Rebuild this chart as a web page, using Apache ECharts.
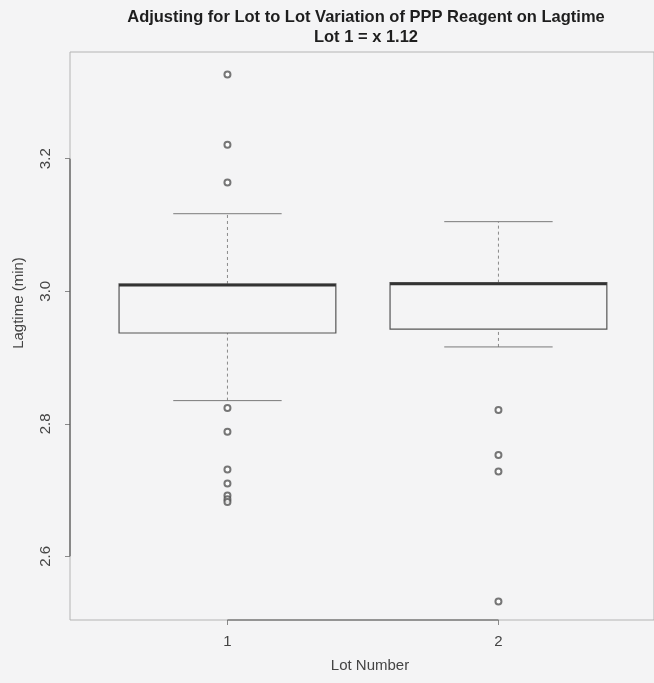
<!DOCTYPE html>
<html>
<head>
<meta charset="utf-8">
<script src="https://cdn.jsdelivr.net/npm/echarts@6/dist/echarts.min.js"></script>
<style>
html,body{margin:0;padding:0;background:#f4f4f5;}
#chart{width:654px;height:683px;}
</style>
</head>
<body>
<div id="chart"></div>
<script>
// ---- data ----
const categories = ['1', '2'];
const lotPositions = [1, 2];
const lowerWhisker = [2.835, 2.916];
const q1 = [2.937, 2.943];
const median = [3.009, 3.011];
const q3 = [3.011, 3.013];
const upperWhisker = [3.117, 3.105];
const outliersLot1 = [3.327, 3.221, 3.164, 2.824, 2.788, 2.731, 2.710, 2.692, 2.686, 2.682];
const outliersLot2 = [2.821, 2.753, 2.728, 2.532];
const yTicks = [2.6, 2.8, 3.0, 3.2];
const titleText = 'Adjusting for Lot to Lot Variation of PPP Reagent on Lagtime';
const subtitleText = 'Lot 1 = x 1.12';
const yName = 'Lagtime (min)';
const xName = 'Lot Number';

// ---- axis ranges / layout ----
const Y_MIN = 2.504, Y_MAX = 3.361;
const X_MIN = 0.419, X_MAX = 2.574;
const BOX_WIDTH = 0.8;
const FONT = '"Liberation Sans", Arial, Helvetica, sans-serif';

const boxData = lotPositions.map((x, i) => [x, lowerWhisker[i], q1[i], median[i], q3[i], upperWhisker[i]]);
const outlierData = outliersLot1.map(v => [lotPositions[0], v]).concat(outliersLot2.map(v => [lotPositions[1], v]));

const chart = echarts.init(document.getElementById('chart'), null, {renderer: 'canvas'});

const dashed = {stroke: '#8a8a8a', lineWidth: 1, lineDash: [3, 3]};

chart.setOption({
  backgroundColor: '#f4f4f5',
  animation: false,
  title: [
    {text: titleText, left: 366, top: 9, textAlign: 'center', padding: 0,
     textStyle: {fontFamily: FONT, fontSize: 16.5, fontWeight: 'bold', color: '#1e1e1e'}},
    {text: subtitleText, left: 366, top: 29, textAlign: 'center', padding: 0,
     textStyle: {fontFamily: FONT, fontSize: 16.5, fontWeight: 'bold', color: '#1e1e1e'}}
  ],
  grid: {left: 70, right: -2, top: 52, bottom: 63, show: true, borderColor: '#b4b4b4', borderWidth: 1, backgroundColor: 'transparent'},
  xAxis: {
    type: 'value', min: X_MIN, max: X_MAX,
    splitLine: {show: false},
    axisLine: {show: false},
    axisTick: {show: true, customValues: lotPositions, length: 5, lineStyle: {color: '#8a8a8a'}},
    axisLabel: {customValues: lotPositions, margin: 14, formatter: v => categories[lotPositions.indexOf(v)],
      fontFamily: FONT, fontSize: 15, color: '#444'}
  },
  yAxis: {
    type: 'value', min: Y_MIN, max: Y_MAX,
    splitLine: {show: false},
    axisLine: {show: false},
    axisTick: {show: true, customValues: yTicks, length: 5, lineStyle: {color: '#8a8a8a'}},
    axisLabel: {customValues: yTicks, rotate: 90, margin: 17, formatter: v => v.toFixed(1),
      fontFamily: FONT, fontSize: 15, color: '#444'}
  },
  graphic: [
    {type: 'text', x: 19, y: 303, rotation: Math.PI / 2,
     style: {text: yName, font: '15px ' + FONT, fill: '#444', align: 'center', verticalAlign: 'middle'}},
    {type: 'text', x: 370, y: 666,
     style: {text: xName, font: '15px ' + FONT, fill: '#444', align: 'center', verticalAlign: 'middle'}}
  ],
  series: [
    {
      type: 'line', data: [[lotPositions[0], Y_MIN], [lotPositions[1], Y_MIN]],
      symbol: 'none', silent: true, clip: false, lineStyle: {color: '#555', width: 1.2}
    },
    {
      type: 'line', data: [[X_MIN, yTicks[0]], [X_MIN, yTicks[yTicks.length - 1]]],
      symbol: 'none', silent: true, clip: false, lineStyle: {color: '#555', width: 1.2}
    },
    {
      type: 'custom',
      data: boxData,
      encode: {x: 0, y: [1, 2, 3, 4, 5]},
      renderItem: function (params, api) {
        const x = api.value(0);
        const lo = api.coord([x, api.value(1)]);
        const b1 = api.coord([x, api.value(2)]);
        const md = api.coord([x, api.value(3)]);
        const b3 = api.coord([x, api.value(4)]);
        const hi = api.coord([x, api.value(5)]);
        const half = api.size([BOX_WIDTH, 0])[0] / 2;
        const cap = half * 0.5;
        return {
          type: 'group',
          children: [
            {type: 'line', shape: {x1: lo[0], y1: lo[1], x2: b1[0], y2: b1[1]}, style: dashed},
            {type: 'line', shape: {x1: b3[0], y1: b3[1], x2: hi[0], y2: hi[1]}, style: dashed},
            {type: 'line', shape: {x1: lo[0] - cap, y1: lo[1], x2: lo[0] + cap, y2: lo[1]}, style: {stroke: '#7a7a7a', lineWidth: 1}},
            {type: 'line', shape: {x1: hi[0] - cap, y1: hi[1], x2: hi[0] + cap, y2: hi[1]}, style: {stroke: '#7a7a7a', lineWidth: 1}},
            {type: 'rect', shape: {x: b1[0] - half, y: b3[1], width: 2 * half, height: b1[1] - b3[1]},
             style: {fill: 'none', stroke: '#555', lineWidth: 1.2}},
            {type: 'line', shape: {x1: md[0] - half, y1: md[1], x2: md[0] + half, y2: md[1]}, style: {stroke: '#333', lineWidth: 2.5}}
          ]
        };
      }
    },
    {
      type: 'scatter', data: outlierData, symbol: 'emptyCircle', symbolSize: 6,
      itemStyle: {color: '#555', borderColor: '#4a4a4a', borderWidth: 1.3}
    }
  ]
});
</script>
</body>
</html>
